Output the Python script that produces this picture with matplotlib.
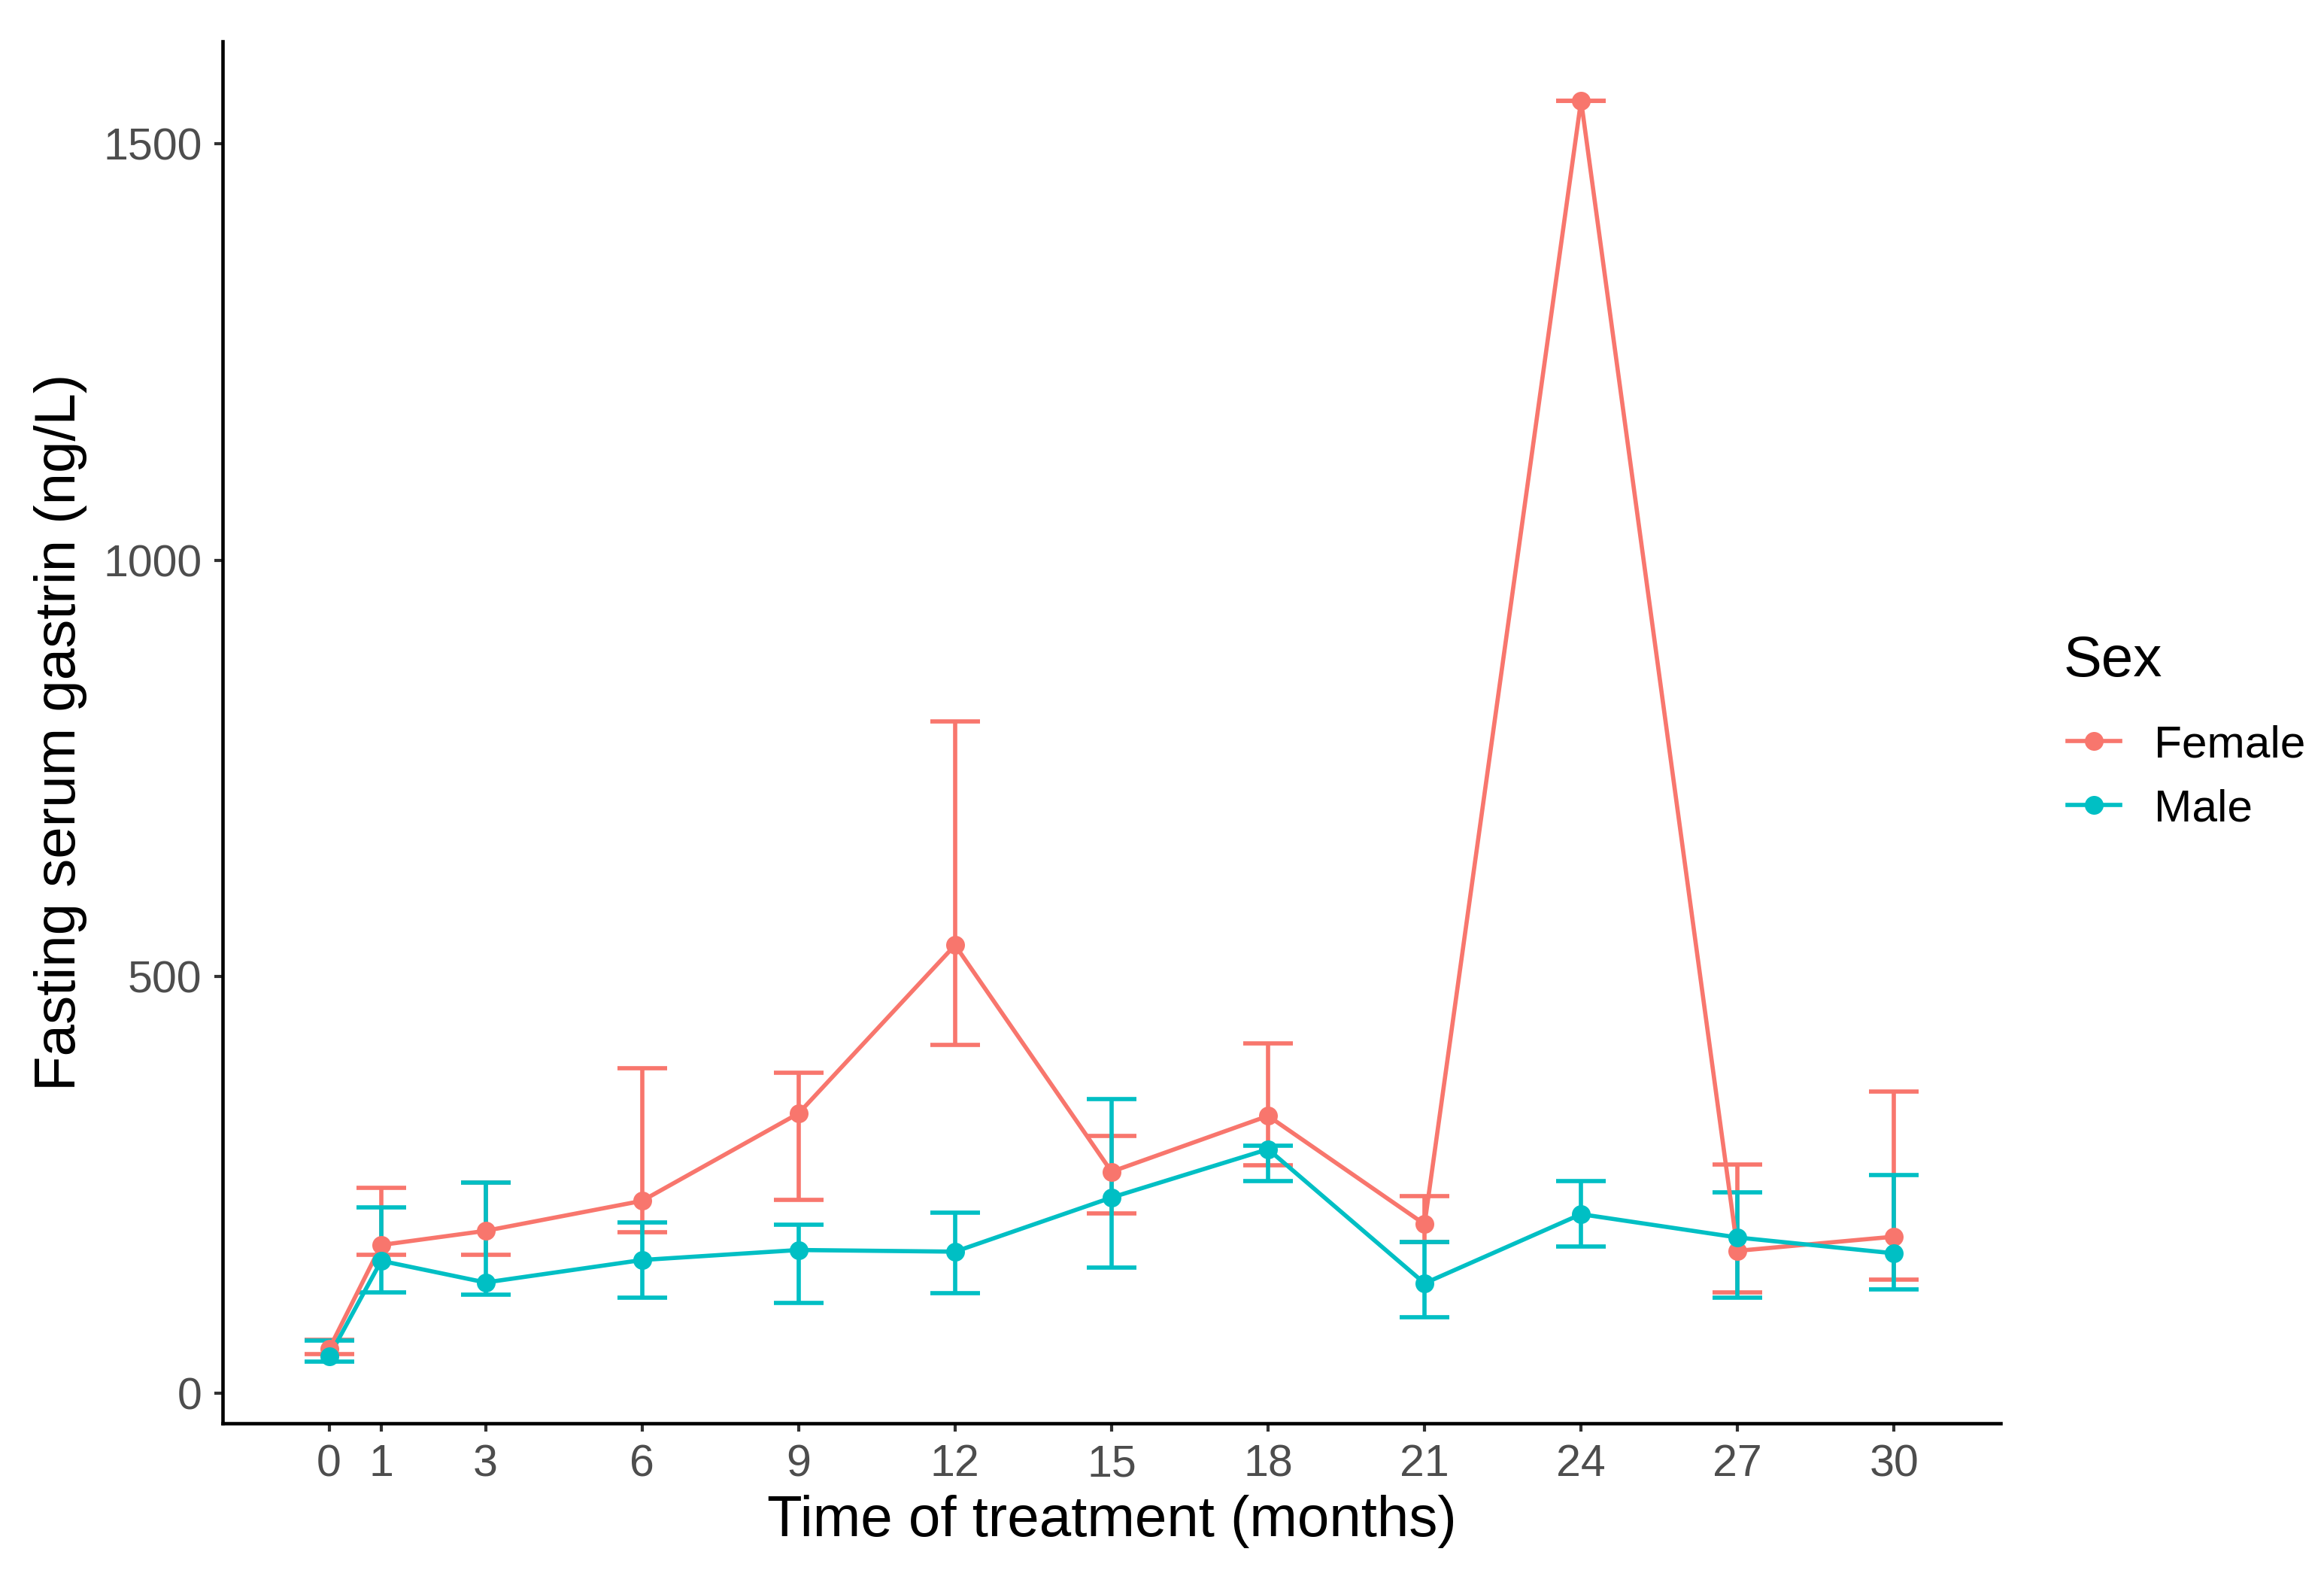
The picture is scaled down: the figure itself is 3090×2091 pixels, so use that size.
import matplotlib
matplotlib.use("Agg")
import matplotlib.pyplot as plt
from matplotlib.lines import Line2D
import numpy as np

plt.rcParams['font.family'] = ['Liberation Sans', 'DejaVu Sans']

months = [0, 1, 3, 6, 9, 12, 15, 18, 21, 24, 27, 30]
female_mean = [53, 178, 195, 231, 336, 538, 266, 333, 203, 1552, 171, 188]
female_low = [47, 166, 166, 193, 232, 418, 216, 274, 182, 1552, 121, 136]
female_high = [64, 247, 253, 390, 385, 807, 309, 420, 237, 1552, 275, 362]
male_mean = [44, 159, 133, 160, 172, 170, 235, 293, 132, 215, 187, 168]
male_low = [38, 121, 118, 115, 108, 120, 151, 255, 91, 176, 115, 125]
male_high = [63, 223, 253, 205, 202, 217, 353, 297, 182, 255, 241, 262]
yticks = [0, 500, 1000, 1500]
series_names = ["Female", "Male"]
colors = ["#F8766D", "#00BFC4"]

fig = plt.figure(figsize=(10.3, 6.97), dpi=300)
ax = fig.add_axes([0.0958, 0.0952, 0.8608 - 0.0958, 0.9737 - 0.0952])

lw = 1.35
ms = 6.0
series = [(female_mean, female_low, female_high), (male_mean, male_low, male_high)]
for (m, lo, hi), c in zip(series, colors):
    m = np.array(m); lo = np.array(lo); hi = np.array(hi)
    ax.errorbar(months, m, yerr=[m - lo, hi - m], fmt='none', ecolor=c,
                elinewidth=lw, capsize=8, capthick=lw, zorder=2)
for (m, lo, hi), c in zip(series, colors):
    ax.plot(months, m, color=c, lw=lw, zorder=3)
for (m, lo, hi), c in zip(series, colors):
    ax.plot(months, m, 'o', color=c, ms=ms, mew=0, zorder=4)

ax.set_xlim(-2.04, 32.04)
ax.set_ylim(-36, 1623)
ax.set_xticks(months)
ax.set_xticklabels([str(v) for v in months])
ax.set_yticks(yticks)
ax.set_yticklabels([str(v) for v in yticks])

for s in ['top', 'right']:
    ax.spines[s].set_visible(False)
for s in ['left', 'bottom']:
    ax.spines[s].set_linewidth(1.1)
    ax.spines[s].set_color('black')
ax.tick_params(axis='both', length=2.6, width=1.0, color='#333333',
               labelsize=14.2, labelcolor='#4D4D4D', pad=4)

ax.set_xlabel("Time of treatment (months)", fontsize=18.3, color='black', labelpad=3)
ax.set_ylabel("Fasting serum gastrin (ng/L)", fontsize=18.3, color='black', labelpad=5)

fig.text(0.8878, 0.5703, "Sex", fontsize=18.3, color='black', ha='left', va='baseline')
handles = [Line2D([0], [0], color=c, lw=lw, marker='o', ms=ms, mew=0) for c in colors]
leg = fig.legend(handles, series_names, loc='center left',
                 bbox_to_anchor=(0.8897, 0.5058), frameon=False,
                 fontsize=14.5, handlelength=1.15, handletextpad=0.75,
                 labelspacing=0.5, borderpad=0, borderaxespad=0)

fig.savefig("out.png", dpi=300, facecolor='white')
